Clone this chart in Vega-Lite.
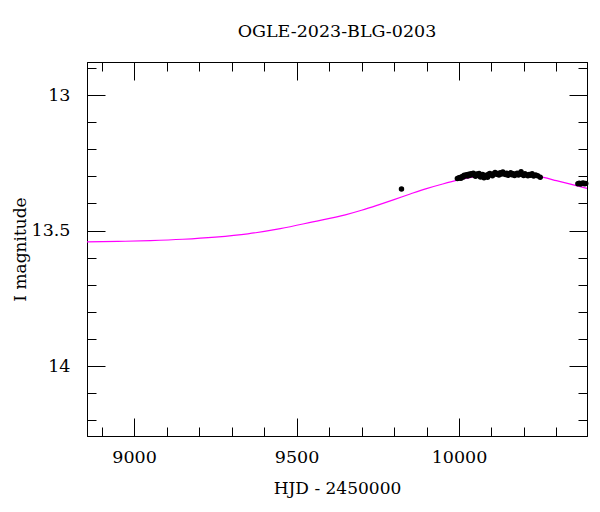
{
  "$schema": "https://vega.github.io/schema/vega-lite/v6.json",
  "width": 500,
  "height": 374,
  "autosize": {"type": "none"},
  "padding": {"left": 87, "top": 62, "right": 13, "bottom": 76},
  "background": "white",
  "title": {"text": "OGLE-2023-BLG-0203", "font": "DejaVu Serif", "fontSize": 17.5, "fontWeight": "normal", "color": "black", "offset": 18},
  "config": {
    "view": {"stroke": "black", "strokeWidth": 1},
    "axis": {"grid": false, "domainColor": "black", "tickColor": "black", "labelColor": "black", "titleColor": "black", "labelFont": "DejaVu Serif", "titleFont": "DejaVu Serif", "labelFontSize": 17.5, "titleFontSize": 17, "titleFontWeight": "normal", "labelOverlap": false, "tickWidth": 1, "domainWidth": 1}
  },
  "datasets": {
    "model": [
      {"hjd": 8855, "mag": 13.542}, {"hjd": 8950, "mag": 13.540}, {"hjd": 9050, "mag": 13.537}, {"hjd": 9150, "mag": 13.532},
      {"hjd": 9250, "mag": 13.524}, {"hjd": 9350, "mag": 13.512}, {"hjd": 9450, "mag": 13.493}, {"hjd": 9550, "mag": 13.468},
      {"hjd": 9650, "mag": 13.442}, {"hjd": 9700, "mag": 13.425}, {"hjd": 9750, "mag": 13.406}, {"hjd": 9800, "mag": 13.386},
      {"hjd": 9850, "mag": 13.365}, {"hjd": 9900, "mag": 13.345}, {"hjd": 9950, "mag": 13.328}, {"hjd": 10000, "mag": 13.313},
      {"hjd": 10050, "mag": 13.301}, {"hjd": 10100, "mag": 13.292}, {"hjd": 10140, "mag": 13.289}, {"hjd": 10180, "mag": 13.290},
      {"hjd": 10220, "mag": 13.295}, {"hjd": 10260, "mag": 13.304}, {"hjd": 10300, "mag": 13.316}, {"hjd": 10340, "mag": 13.328},
      {"hjd": 10394, "mag": 13.344}
    ],
    "obs": [
      {"hjd": 9823, "mag": 13.347},
      {"hjd": 9995, "mag": 13.308}, {"hjd": 9999, "mag": 13.306}, {"hjd": 10003, "mag": 13.304}, {"hjd": 10006, "mag": 13.307},
      {"hjd": 10010, "mag": 13.300}, {"hjd": 10013, "mag": 13.302}, {"hjd": 10016, "mag": 13.296}, {"hjd": 10020, "mag": 13.298},
      {"hjd": 10023, "mag": 13.294}, {"hjd": 10027, "mag": 13.299}, {"hjd": 10030, "mag": 13.292}, {"hjd": 10034, "mag": 13.296},
      {"hjd": 10037, "mag": 13.290}, {"hjd": 10041, "mag": 13.293}, {"hjd": 10044, "mag": 13.288}, {"hjd": 10048, "mag": 13.297},
      {"hjd": 10051, "mag": 13.300}, {"hjd": 10055, "mag": 13.291}, {"hjd": 10058, "mag": 13.295}, {"hjd": 10062, "mag": 13.289},
      {"hjd": 10066, "mag": 13.302}, {"hjd": 10069, "mag": 13.298}, {"hjd": 10073, "mag": 13.293}, {"hjd": 10077, "mag": 13.305},
      {"hjd": 10080, "mag": 13.300}, {"hjd": 10084, "mag": 13.296}, {"hjd": 10088, "mag": 13.303}, {"hjd": 10091, "mag": 13.292},
      {"hjd": 10095, "mag": 13.289}, {"hjd": 10099, "mag": 13.294}, {"hjd": 10103, "mag": 13.298}, {"hjd": 10107, "mag": 13.290},
      {"hjd": 10111, "mag": 13.286}, {"hjd": 10115, "mag": 13.292}, {"hjd": 10119, "mag": 13.289}, {"hjd": 10123, "mag": 13.295},
      {"hjd": 10127, "mag": 13.287}, {"hjd": 10131, "mag": 13.291}, {"hjd": 10135, "mag": 13.284}, {"hjd": 10139, "mag": 13.290},
      {"hjd": 10143, "mag": 13.293}, {"hjd": 10147, "mag": 13.288}, {"hjd": 10151, "mag": 13.296}, {"hjd": 10155, "mag": 13.291},
      {"hjd": 10159, "mag": 13.287}, {"hjd": 10163, "mag": 13.294}, {"hjd": 10167, "mag": 13.290}, {"hjd": 10171, "mag": 13.297},
      {"hjd": 10175, "mag": 13.292}, {"hjd": 10179, "mag": 13.288}, {"hjd": 10183, "mag": 13.295}, {"hjd": 10187, "mag": 13.291},
      {"hjd": 10191, "mag": 13.283}, {"hjd": 10195, "mag": 13.293}, {"hjd": 10199, "mag": 13.297}, {"hjd": 10203, "mag": 13.290},
      {"hjd": 10207, "mag": 13.294}, {"hjd": 10212, "mag": 13.298}, {"hjd": 10216, "mag": 13.293}, {"hjd": 10220, "mag": 13.296},
      {"hjd": 10225, "mag": 13.290}, {"hjd": 10230, "mag": 13.299}, {"hjd": 10236, "mag": 13.295}, {"hjd": 10242, "mag": 13.298},
      {"hjd": 10250, "mag": 13.303},
      {"hjd": 10366, "mag": 13.327}, {"hjd": 10370, "mag": 13.325}, {"hjd": 10374, "mag": 13.328}, {"hjd": 10378, "mag": 13.326},
      {"hjd": 10382, "mag": 13.324}, {"hjd": 10386, "mag": 13.327}, {"hjd": 10390, "mag": 13.326}
    ]
  },
  "layer": [
    {
      "data": {"name": "model"},
      "mark": {"type": "line", "color": "#ff00ff", "strokeWidth": 1.2, "interpolate": "monotone", "clip": true},
      "encoding": {
        "x": {"field": "hjd", "type": "quantitative", "scale": {"domain": [8855, 10394], "nice": false, "zero": false},
          "axis": {"orient": "bottom", "values": [8900, 9000, 9100, 9200, 9300, 9400, 9500, 9600, 9700, 9800, 9900, 10000, 10100, 10200, 10300],
            "format": "d", "labelExpr": "datum.value % 500 === 0 ? datum.label : ''",
            "tickSize": {"condition": {"test": "datum.value % 500 === 0", "value": -18}, "value": -9},
            "labelPadding": 30, "title": "HJD - 2450000", "titlePadding": 6}},
        "y": {"field": "mag", "type": "quantitative", "scale": {"domain": [12.878, 14.258], "nice": false, "zero": false, "reverse": true},
          "axis": {"orient": "left", "values": [12.9, 13, 13.1, 13.2, 13.3, 13.4, 13.5, 13.6, 13.7, 13.8, 13.9, 14, 14.1, 14.2],
            "labelExpr": "round(datum.value * 10) % 5 === 0 ? '' + datum.value : ''",
            "tickSize": {"condition": {"test": "round(datum.value * 10) % 5 === 0", "value": -18}, "value": -9},
            "labelPadding": 35, "title": "I magnitude", "titlePadding": 2}}
      }
    },
    {
      "data": {"name": "obs"},
      "mark": {"type": "circle", "color": "black", "size": 30, "opacity": 1},
      "encoding": {
        "x": {"field": "hjd", "type": "quantitative", "scale": {"domain": [8855, 10394], "nice": false, "zero": false},
          "axis": {"orient": "top", "values": [8900, 9000, 9100, 9200, 9300, 9400, 9500, 9600, 9700, 9800, 9900, 10000, 10100, 10200, 10300],
            "labels": false, "title": null,
            "tickSize": {"condition": {"test": "datum.value % 500 === 0", "value": -18}, "value": -9}}},
        "y": {"field": "mag", "type": "quantitative", "scale": {"domain": [12.878, 14.258], "nice": false, "zero": false, "reverse": true},
          "axis": {"orient": "right", "values": [12.9, 13, 13.1, 13.2, 13.3, 13.4, 13.5, 13.6, 13.7, 13.8, 13.9, 14, 14.1, 14.2],
            "labels": false, "title": null,
            "tickSize": {"condition": {"test": "round(datum.value * 10) % 5 === 0", "value": -18}, "value": -9}}}
      }
    }
  ],
  "resolve": {"axis": {"x": "independent", "y": "independent"}}
}
